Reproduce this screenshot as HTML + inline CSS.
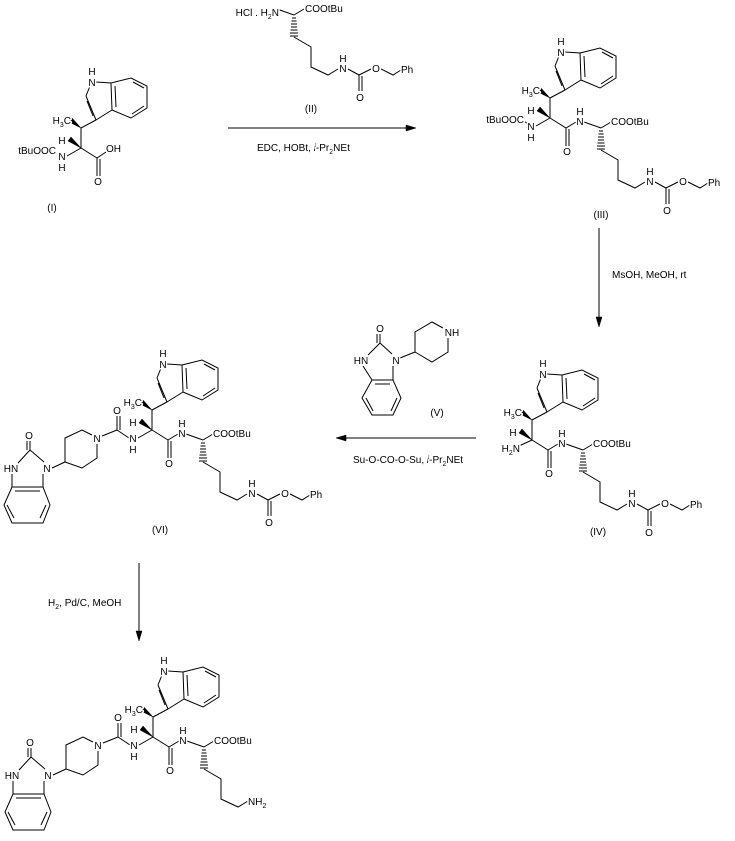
<!DOCTYPE html>
<html><head><meta charset="utf-8"><style>
html,body{margin:0;padding:0;background:#fff}
svg{display:block}
text{font-family:"Liberation Sans",sans-serif;font-size:10px;fill:#000;stroke:#fff;stroke-width:3px;paint-order:stroke;stroke-linejoin:round}
.m{text-anchor:middle}.e{text-anchor:end}
path{fill:none;stroke:#000;stroke-width:1}
.w{fill:#000;stroke:#000;stroke-width:0.5}
</style></head><body>
<svg width="735" height="841" viewBox="0 0 735 841" xmlns="http://www.w3.org/2000/svg">
<defs>
<g id="trp">
<path d="M0,0L0,-20M0,-20L15,-28M15,-28L5,-52M12,-32L6,-47M5,-52L9,-62M15,-66L30,-65M30,-65L31,-38M31,-38L15,-28M30,-65L50,-70L66,-62L66,-40L50,-30L31,-38M52,-66L63,-60M63,-42L51,-34M34,-62L35,-41"/>
<polygon class="w" points="0,-20 -9,-30 -12,-26"/>
<polygon class="w" points="0,0 -10,-11 -13,-7"/>
</g>
<g id="amideA">
<path d="M0,0L16,10M16,10L16,28M19,11L19,28M16,10L26,4"/>
</g>
<g id="lys">
<path d="M34,4L51,10M51,10L61,4"/>
<path d="M49,13L53,13M48.5,16L53.5,16M48,19L54,19M48,22L54,22M47.5,25L54.5,25M47,28L55,28M47,31L55,31"/>
<path d="M51,32L68,42L68,62L85,70L95,64"/>
</g>
<g id="cbz">
<path d="M105,64L116,70L128,64M116,70L116,86M119,71L119,86M138,64L150,70L158,65"/>
</g>
<g id="left">
<path d="M-23,8L-35,0M-35,0L-35,-14M-32,0L-32,-14M-35,0L-50,6M-60,5L-70,0L-87,8L-87,32L-70,38L-55,28L-55,14M-87,32L-100,38M-109,44L-109,57M-108,32L-122,20M-122,20L-122,11M-125,20L-125,11M-122,20L-134,33M-140,44L-140,57M-140,57L-109,57L-102,75L-109,93L-140,93L-148,75L-140,57M-137,61L-112,61M-106,75L-112,88M-145,75L-138,88"/>
</g>
</defs>

<!-- Compound I -->
<g transform="translate(81,148)">
<use href="#trp"/>
<path d="M0,0L-14,8M0,0L16,10M16,10L16,28M19,11L19,28M16,10L25,4"/>
<text class="m" x="11" y="-62">N</text><text class="m" x="11" y="-73">H</text>
<text class="e" x="-10" y="-24">H<tspan font-size="7" dy="3">3</tspan><tspan dy="-3">C</tspan></text>
<text class="m" x="-19" y="-4">H</text>
<text class="m" x="-19" y="12">N</text><text class="m" x="-19" y="23">H</text>
<text class="e" x="-25" y="6">tBuOOC</text>
<text x="25" y="4">OH</text>
<text class="m" x="17" y="37">O</text>
</g>
<text class="m" x="52" y="211">(I)</text>

<!-- Compound II -->
<g transform="translate(243,5)">
<use href="#lys"/><use href="#cbz"/>
<text class="e" x="36" y="11">HCl .  H<tspan font-size="7" dy="3">2</tspan><tspan dy="-3">N</tspan></text>
<text x="62" y="7">COOtBu</text>
<text class="m" x="100" y="67">N</text><text class="m" x="100" y="57">H</text>
<text class="m" x="117" y="96">O</text><text class="m" x="133" y="67">O</text>
<text x="158" y="68">Ph</text>
</g>
<text class="m" x="311" y="112">(II)</text>
<path d="M228,128L412,128"/><polygon class="w" points="416,128 406,125 406,131"/>
<text x="257" y="151">EDC, HOBt, <tspan font-style="italic">i</tspan>-Pr<tspan font-size="7" dy="3">2</tspan><tspan dy="-3">NEt</tspan></text>

<!-- Compound III -->
<g transform="translate(550,118)">
<use href="#trp"/><use href="#amideA"/><use href="#lys"/><use href="#cbz"/>
<path d="M0,0L-14,8M-26,3L-22,6"/>
<text class="m" x="11" y="-62">N</text><text class="m" x="11" y="-73">H</text>
<text class="e" x="-10" y="-24">H<tspan font-size="7" dy="3">3</tspan><tspan dy="-3">C</tspan></text>
<text class="m" x="-19" y="-4">H</text>
<text class="m" x="-19" y="12">N</text><text class="m" x="-19" y="23">H</text>
<text class="e" x="-26" y="5">tBuOOC</text>
<text class="m" x="17" y="37">O</text>
<text class="m" x="30" y="7">N</text><text class="m" x="30" y="-3">H</text>
<text x="61" y="7">COOtBu</text>
<text class="m" x="100" y="67">N</text><text class="m" x="100" y="57">H</text>
<text class="m" x="117" y="96">O</text><text class="m" x="133" y="67">O</text>
<text x="158" y="68">Ph</text>
</g>
<text class="m" x="601" y="218">(III)</text>
<path d="M599,228L599,322"/><polygon class="w" points="599,327 596,317 602,317"/>
<text x="612" y="278">MsOH, MeOH, rt</text>

<!-- Compound IV -->
<g transform="translate(532,440)">
<use href="#trp"/><use href="#amideA"/><use href="#lys"/><use href="#cbz"/>
<path d="M0,0L-13,6"/>
<text class="m" x="11" y="-62">N</text><text class="m" x="11" y="-73">H</text>
<text class="e" x="-10" y="-24">H<tspan font-size="7" dy="3">3</tspan><tspan dy="-3">C</tspan></text>
<text class="m" x="-19" y="-4">H</text>
<text class="e" x="-12" y="12">H<tspan font-size="7" dy="3">2</tspan><tspan dy="-3">N</tspan></text>
<text class="m" x="17" y="37">O</text>
<text class="m" x="30" y="7">N</text><text class="m" x="30" y="-3">H</text>
<text x="61" y="7">COOtBu</text>
<text class="m" x="100" y="67">N</text><text class="m" x="100" y="57">H</text>
<text class="m" x="117" y="96">O</text><text class="m" x="133" y="67">O</text>
<text x="158" y="68">Ph</text>
</g>
<text class="m" x="598" y="535">(IV)</text>

<!-- Compound V -->
<path d="M393,366L393,380M392,354L380,343M380,343L380,334M377,343L377,334M380,343L368,355M363,366L372,380M372,380L393,380L401,398L393,415L372,415L362,398L372,380M375,384L390,384M397,398L391,411M366,398L373,411M400,358L415,352M415,352L415,332L432,322L443,328M448,338L448,352L432,362L415,352"/>
<text class="m" x="380" y="332">O</text>
<text class="m" x="361" y="364">HN</text>
<text class="m" x="396" y="364">N</text>
<text class="m" x="452" y="336">NH</text>
<text class="m" x="437" y="416">(V)</text>
<path d="M340,438L476,438"/><polygon class="w" points="336,438 346,435 346,441"/>
<text x="353" y="463">Su-O-CO-O-Su, <tspan font-style="italic">i</tspan>-Pr<tspan font-size="7" dy="3">2</tspan><tspan dy="-3">NEt</tspan></text>

<!-- Compound VI -->
<g transform="translate(152,430)">
<use href="#trp"/><use href="#amideA"/><use href="#lys"/><use href="#cbz"/><use href="#left"/>
<path d="M0,0L-14,8"/>
<text class="m" x="11" y="-62">N</text><text class="m" x="11" y="-73">H</text>
<text class="e" x="-10" y="-24">H<tspan font-size="7" dy="3">3</tspan><tspan dy="-3">C</tspan></text>
<text class="m" x="-19" y="-4">H</text>
<text class="m" x="-19" y="12">N</text><text class="m" x="-19" y="23">H</text>
<text class="m" x="-35" y="-16">O</text>
<text class="m" x="-55" y="12">N</text>
<text class="m" x="-105" y="42">N</text>
<text class="m" x="-123" y="9">O</text>
<text class="m" x="-141" y="42">HN</text>
<text class="m" x="17" y="37">O</text>
<text class="m" x="30" y="7">N</text><text class="m" x="30" y="-3">H</text>
<text x="61" y="7">COOtBu</text>
<text class="m" x="100" y="67">N</text><text class="m" x="100" y="57">H</text>
<text class="m" x="117" y="96">O</text><text class="m" x="133" y="67">O</text>
<text x="158" y="68">Ph</text>
</g>
<text class="m" x="160" y="533">(VI)</text>
<path d="M139,563L139,636"/><polygon class="w" points="139,641 136,631 142,631"/>
<text x="48" y="606">H<tspan font-size="7" dy="3">2</tspan><tspan dy="-3">, Pd/C, MeOH</tspan></text>

<!-- Final compound -->
<g transform="translate(153,737)">
<use href="#trp"/><use href="#amideA"/><use href="#lys"/><use href="#left"/>
<path d="M0,0L-14,8"/>
<text class="m" x="11" y="-62">N</text><text class="m" x="11" y="-73">H</text>
<text class="e" x="-10" y="-24">H<tspan font-size="7" dy="3">3</tspan><tspan dy="-3">C</tspan></text>
<text class="m" x="-19" y="-4">H</text>
<text class="m" x="-19" y="12">N</text><text class="m" x="-19" y="23">H</text>
<text class="m" x="-35" y="-16">O</text>
<text class="m" x="-55" y="12">N</text>
<text class="m" x="-105" y="42">N</text>
<text class="m" x="-123" y="9">O</text>
<text class="m" x="-141" y="42">HN</text>
<text class="m" x="17" y="37">O</text>
<text class="m" x="30" y="7">N</text><text class="m" x="30" y="-3">H</text>
<text x="61" y="7">COOtBu</text>
<text x="95" y="68">NH<tspan font-size="7" dy="3">2</tspan></text>
</g>
</svg>
</body></html>
